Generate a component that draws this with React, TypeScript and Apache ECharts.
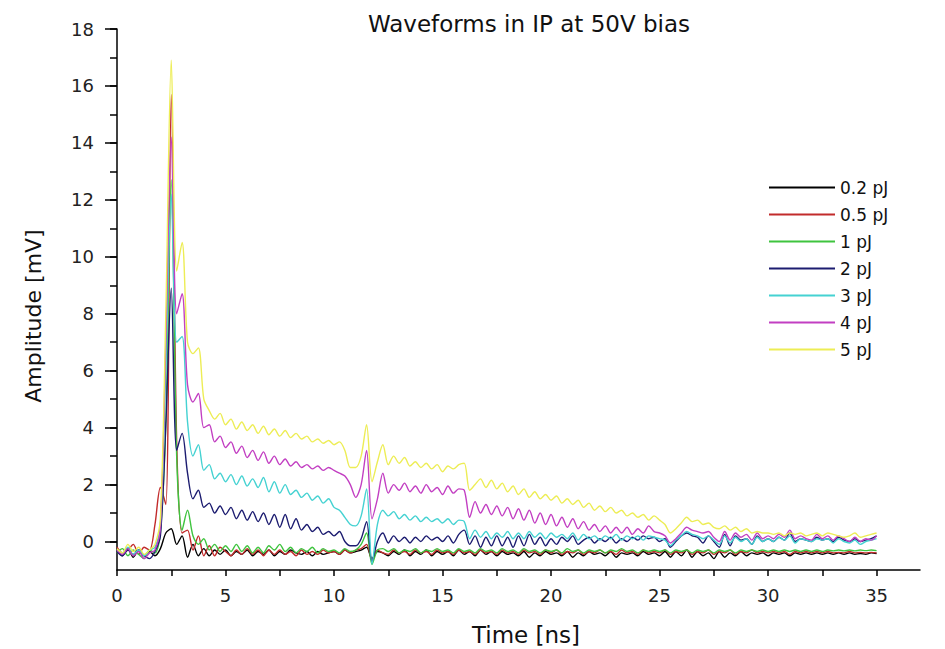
import React, { useEffect, useRef } from "react";
import * as echarts from "echarts";

// Sampling grid of the waveforms (ns)
const T_STEP = 0.25;
const N_POINTS = 141; // 0 .. 35 ns

const seriesNames = ["0.2 pJ", "0.5 pJ", "1 pJ", "2 pJ", "3 pJ", "4 pJ", "5 pJ"];
const seriesColors = ["#000000", "#c22b2b", "#3fc43f", "#1c1c70", "#45d2d2", "#c23fc2", "#eded55"];

const xLabelValues = [0, 5, 10, 15, 20, 25, 30, 35];
const xTickValues = [0, 2.5, 5, 7.5, 10, 12.5, 15, 17.5, 20, 22.5, 25, 27.5, 30, 32.5, 35];
const yLabelValues = [0, 2, 4, 6, 8, 10, 12, 14, 16, 18];
const yMinorTickValues = [0, 1, 2, 3, 4, 5, 6, 7, 8, 9, 10, 11, 12, 13, 14, 15, 16, 17, 18];

const pj02 = [
  -0.3,-0.5,-0.25,-0.55,-0.3,-0.5,-0.35,-0.5,-0.25,0.3,
  0.45,-0.1,0.2,-0.55,-0.1,-0.5,-0.25,-0.5,-0.3,-0.45,
  -0.3,-0.5,-0.35,-0.45,-0.3,-0.5,-0.35,-0.45,-0.3,-0.5,
  -0.35,-0.45,-0.3,-0.4,-0.45,-0.35,-0.5,-0.35,-0.45,-0.4,
  -0.35,-0.45,-0.3,-0.4,-0.35,-0.3,-0.2,-0.6,-0.35,-0.4,
  -0.5,-0.35,-0.45,-0.3,-0.5,-0.35,-0.45,-0.3,-0.5,-0.35,
  -0.45,-0.35,-0.5,-0.3,-0.45,-0.35,-0.5,-0.3,-0.45,-0.35,
  -0.5,-0.35,-0.45,-0.4,-0.5,-0.35,-0.55,-0.4,-0.5,-0.35,
  -0.45,-0.4,-0.5,-0.35,-0.55,-0.4,-0.5,-0.35,-0.45,-0.4,
  -0.5,-0.35,-0.55,-0.4,-0.45,-0.4,-0.5,-0.35,-0.45,-0.4,
  -0.5,-0.35,-0.55,-0.35,-0.5,-0.3,-0.55,-0.35,-0.5,-0.4,
  -0.6,-0.35,-0.55,-0.4,-0.5,-0.35,-0.5,-0.4,-0.45,-0.4,
  -0.5,-0.4,-0.45,-0.4,-0.5,-0.4,-0.45,-0.4,-0.45,-0.4,
  -0.45,-0.4,-0.45,-0.4,-0.45,-0.4,-0.45,-0.42,-0.45,-0.4,-0.42,
];

const pj05 = [
  -0.2,-0.4,-0.3,-0.1,-0.45,-0.2,-0.3,0.6,1.9,1.3,
  15.7,3.5,0.3,0.4,-0.3,0.2,-0.5,-0.15,-0.5,-0.2,
  -0.35,-0.5,-0.3,-0.45,-0.25,-0.45,-0.3,-0.5,-0.3,-0.45,
  -0.3,-0.45,-0.35,-0.5,-0.3,-0.45,-0.35,-0.45,-0.3,-0.4,
  -0.35,-0.45,-0.3,-0.4,-0.3,-0.25,-0.1,-0.65,-0.3,-0.4,
  -0.45,-0.3,-0.4,-0.35,-0.45,-0.3,-0.4,-0.35,-0.45,-0.3,
  -0.4,-0.35,-0.45,-0.3,-0.4,-0.35,-0.45,-0.3,-0.4,-0.35,
  -0.45,-0.3,-0.4,-0.35,-0.45,-0.3,-0.4,-0.35,-0.45,-0.3,
  -0.4,-0.3,-0.45,-0.35,-0.4,-0.3,-0.45,-0.35,-0.4,-0.3,
  -0.4,-0.35,-0.45,-0.3,-0.4,-0.35,-0.45,-0.3,-0.4,-0.35,
  -0.4,-0.3,-0.45,-0.35,-0.4,-0.3,-0.45,-0.35,-0.4,-0.3,
  -0.45,-0.35,-0.4,-0.3,-0.45,-0.35,-0.4,-0.3,-0.4,-0.35,
  -0.4,-0.35,-0.4,-0.35,-0.45,-0.35,-0.4,-0.35,-0.4,-0.35,
  -0.4,-0.35,-0.4,-0.38,-0.4,-0.35,-0.4,-0.38,-0.4,-0.38,-0.4,
];

const pj1 = [
  -0.4,-0.25,-0.5,-0.3,-0.45,-0.6,-0.3,-0.4,0.3,4.2,
  12.7,3.0,0.4,1.1,0.2,-0.1,0.1,-0.3,-0.1,-0.35,
  -0.15,-0.35,-0.1,-0.35,-0.15,-0.4,-0.2,-0.4,-0.15,-0.3,
  -0.1,-0.35,-0.2,-0.4,-0.25,-0.35,-0.2,-0.4,-0.25,-0.35,
  -0.3,-0.4,-0.25,-0.35,-0.3,-0.1,0.3,-0.8,-0.3,-0.25,
  -0.35,-0.25,-0.4,-0.3,-0.35,-0.25,-0.4,-0.3,-0.35,-0.25,
  -0.35,-0.3,-0.4,-0.25,-0.35,-0.3,-0.4,-0.25,-0.35,-0.3,
  -0.4,-0.25,-0.35,-0.3,-0.4,-0.25,-0.35,-0.3,-0.4,-0.3,
  -0.35,-0.3,-0.4,-0.25,-0.35,-0.3,-0.4,-0.3,-0.35,-0.3,
  -0.4,-0.3,-0.35,-0.25,-0.35,-0.3,-0.4,-0.3,-0.35,-0.3,
  -0.35,-0.3,-0.4,-0.3,-0.35,-0.3,-0.4,-0.3,-0.35,-0.3,
  -0.4,-0.3,-0.35,-0.3,-0.4,-0.3,-0.35,-0.3,-0.35,-0.3,
  -0.35,-0.3,-0.35,-0.3,-0.35,-0.3,-0.35,-0.3,-0.35,-0.3,
  -0.35,-0.3,-0.33,-0.3,-0.33,-0.3,-0.33,-0.3,-0.32,-0.3,-0.32,
];

const pj2 = [
  -0.35,-0.5,-0.3,-0.45,-0.3,-0.5,-0.6,-0.35,0.2,4.1,
  8.9,3.2,3.8,2.4,1.5,1.8,1.2,1.35,1.0,1.25,
  0.95,1.2,0.8,1.1,0.75,1.05,0.7,1.0,0.6,0.95,
  0.5,0.95,0.45,0.8,0.4,0.6,0.35,0.5,0.25,0.35,
  0.2,0.35,0.0,-0.15,-0.15,0.1,0.7,-0.7,0.0,0.3,
  -0.05,0.2,0.0,0.15,-0.05,0.15,0.0,0.2,0.05,0.15,
  0.0,0.2,-0.05,0.25,0.4,-0.1,0.2,-0.2,0.15,-0.15,
  0.2,-0.15,0.15,-0.2,0.2,-0.15,0.25,-0.1,0.15,-0.15,
  0.1,-0.1,0.15,0.0,0.2,-0.1,0.05,0.15,-0.05,0.1,
  0.0,0.15,-0.05,0.1,0.0,0.15,0.05,0.2,0.1,0.15,
  0.0,0.1,-0.2,0.0,0.2,0.3,0.2,0.15,-0.05,0.2,
  0.0,-0.2,0.25,-0.15,0.2,0.05,0.1,-0.1,0.2,0.0,
  0.1,0.0,0.15,0.05,0.3,0.0,0.1,0.05,0.0,0.15,
  0.05,0.1,0.0,0.15,0.05,0.0,0.1,0.0,0.05,0.1,0.2,
];

const pj3 = [
  -0.3,-0.4,-0.2,-0.45,-0.3,-0.5,-0.3,-0.2,0.6,6.0,
  12.2,7.0,7.2,4.2,3.0,3.4,2.5,2.7,2.2,2.4,
  2.1,2.35,2.0,2.3,1.95,2.2,1.9,2.25,1.75,2.1,
  1.7,2.0,1.65,1.8,1.55,1.7,1.45,1.6,1.35,1.5,
  1.2,1.1,0.85,0.6,0.55,0.9,1.85,-0.8,0.6,1.1,
  0.9,1.05,0.8,0.95,0.75,0.9,0.7,0.85,0.7,0.8,
  0.65,0.8,0.6,0.75,0.7,0.1,0.4,0.15,0.35,0.1,
  0.3,0.15,0.35,0.1,0.3,0.1,0.35,0.15,0.3,0.1,
  0.3,0.15,0.25,0.1,0.3,0.05,0.25,0.1,0.2,0.05,
  0.2,0.1,0.25,0.05,0.2,0.1,0.2,0.05,0.2,0.15,
  0.1,0.05,-0.15,0.05,0.2,0.35,0.25,0.2,0.1,0.2,
  0.05,-0.1,0.2,-0.05,0.15,0.0,0.1,-0.1,0.15,0.0,
  0.1,0.0,0.15,0.05,0.2,-0.05,0.1,0.05,0.0,0.1,
  0.05,0.1,-0.05,0.1,0.0,-0.05,0.05,-0.1,0.0,0.05,0.1,
];

const pj4 = [
  -0.3,-0.45,-0.25,-0.5,-0.35,-0.6,-0.4,-0.3,0.5,7.0,
  14.2,8.0,8.7,5.5,4.9,5.2,4.0,4.1,3.5,3.7,
  3.3,3.5,3.1,3.35,2.95,3.2,2.85,3.15,2.75,3.0,
  2.7,2.9,2.65,2.8,2.6,2.7,2.55,2.65,2.5,2.6,
  2.5,2.4,2.3,2.0,1.55,2.0,3.2,0.8,1.5,2.4,
  1.7,2.0,1.8,2.05,1.75,1.95,1.7,2.0,1.75,1.9,
  1.65,1.95,1.7,1.85,1.8,0.85,1.4,1.0,1.3,0.95,
  1.25,0.9,1.2,0.8,1.15,0.75,1.1,0.65,1.0,0.6,
  0.95,0.55,0.85,0.5,0.8,0.45,0.7,0.4,0.6,0.35,
  0.55,0.3,0.5,0.3,0.5,0.25,0.45,0.3,0.55,0.35,
  0.3,0.2,-0.05,0.1,0.3,0.5,0.4,0.35,0.3,0.35,
  0.15,0.0,0.35,0.05,0.3,0.15,0.25,0.05,0.3,0.1,
  0.2,0.1,0.25,0.15,0.4,0.1,0.2,0.1,0.05,0.25,
  0.1,0.2,0.05,0.2,0.1,0.0,0.15,0.0,0.1,0.05,0.2,
];

const pj5 = [
  -0.25,-0.4,-0.1,-0.35,-0.2,-0.45,-0.3,-0.1,0.8,8.0,
  16.9,9.5,10.5,7.0,6.6,6.8,5.0,4.6,4.3,4.5,
  4.1,4.3,3.95,4.2,3.9,4.1,3.8,4.05,3.75,3.95,
  3.7,3.9,3.65,3.8,3.6,3.7,3.5,3.6,3.45,3.55,
  3.4,3.5,3.2,2.6,2.6,3.0,4.1,2.1,2.8,3.4,
  2.7,3.0,2.75,2.95,2.65,2.8,2.6,2.75,2.55,2.7,
  2.45,2.65,2.55,2.7,2.75,1.8,2.0,2.2,1.9,2.15,
  1.85,2.05,1.75,1.95,1.65,1.85,1.55,1.75,1.5,1.65,
  1.45,1.6,1.35,1.5,1.3,1.45,1.2,1.35,1.1,1.25,
  1.05,1.2,1.0,1.1,0.9,1.0,0.85,0.95,0.75,0.9,
  0.75,0.6,0.3,0.45,0.65,0.85,0.7,0.75,0.6,0.65,
  0.5,0.45,0.55,0.4,0.5,0.35,0.45,0.3,0.35,0.3,
  0.3,0.25,0.3,0.2,0.3,0.25,0.3,0.2,0.25,0.3,
  0.2,0.3,0.25,0.2,0.15,0.2,0.3,0.15,0.2,0.25,0.3,
];

const allSeries = [pj02, pj05, pj1, pj2, pj3, pj4, pj5];

const FONT = "'DejaVu Sans', 'Liberation Sans', Arial, sans-serif";

export default function App() {
  const ref = useRef<HTMLDivElement>(null);

  useEffect(() => {
    if (!ref.current) return;
    const chart = echarts.init(ref.current, undefined, { renderer: "svg" });

    const series = allSeries.map((vals, si) => ({
      name: seriesNames[si],
      type: "line",
      symbol: "none",
      showSymbol: false,
      smooth: 0.3,
      xAxisIndex: 0,
      yAxisIndex: 0,
      data: vals.slice(0, N_POINTS).map((v, i) => [i * T_STEP, v]),
      lineStyle: { color: seriesColors[si], width: 1.4 },
      itemStyle: { color: seriesColors[si] },
      emphasis: { disabled: true },
    }));

    chart.setOption({
      animation: false,
      backgroundColor: "#ffffff",
      textStyle: { fontFamily: FONT },
      title: {
        text: "Waveforms in IP at 50V bias",
        left: 524,
        textAlign: "center",
        top: 7,
        textStyle: { fontFamily: FONT, fontSize: 23, fontWeight: "normal", color: "#111111" },
      },
      legend: {
        orient: "vertical",
        left: 764,
        top: 174,
        icon: "rect",
        itemWidth: 66,
        itemHeight: 2,
        itemGap: 10,
        data: seriesNames,
        textStyle: { fontFamily: FONT, fontSize: 17, color: "#111111" },
      },
      grid: { left: 117, right: 25, top: 29, bottom: 79, containLabel: false },
      xAxis: {
        type: "value",
        min: 0,
        max: 37,
        splitLine: { show: false },
        axisLine: { show: true, onZero: false, lineStyle: { color: "#000", width: 1.5 } },
        axisTick: { show: true, customValues: xTickValues, length: 6, lineStyle: { color: "#000", width: 1.5 } },
        axisLabel: { customValues: xLabelValues, margin: 16, fontSize: 18, color: "#222", fontFamily: FONT },
      },
      yAxis: [
        {
          type: "value",
          min: -1,
          max: 18,
          position: "left",
          splitLine: { show: false },
          axisLine: { show: true, onZero: false, lineStyle: { color: "#000", width: 1.5 } },
          axisTick: { show: true, customValues: yMinorTickValues, length: 7, lineStyle: { color: "#000", width: 1.5 } },
          axisLabel: { customValues: yLabelValues, margin: 23, fontSize: 18, color: "#222", fontFamily: FONT },
        },
        {
          type: "value",
          min: -1,
          max: 18,
          position: "left",
          splitLine: { show: false },
          axisLine: { show: false },
          axisTick: { show: true, customValues: yLabelValues, length: 12, lineStyle: { color: "#000", width: 1.5 } },
          axisLabel: { show: false },
        },
      ],
      graphic: [
        {
          type: "text",
          x: 33,
          y: 316,
          rotation: Math.PI / 2,
          style: {
            text: "Amplitude [mV]",
            fontFamily: FONT,
            fontSize: 22,
            fill: "#111111",
            textAlign: "center",
            textVerticalAlign: "middle",
          },
        },
        {
          type: "text",
          x: 526,
          y: 635,
          style: {
            text: "Time [ns]",
            fontFamily: FONT,
            fontSize: 23,
            fill: "#111111",
            textAlign: "center",
            textVerticalAlign: "middle",
          },
        },
      ],
      series,
    });

    return () => chart.dispose();
  }, []);

  return (
    <div
      ref={ref}
      style={{ position: "fixed", left: 0, top: 0, width: 945, height: 649, background: "#fff" }}
    />
  );
}
